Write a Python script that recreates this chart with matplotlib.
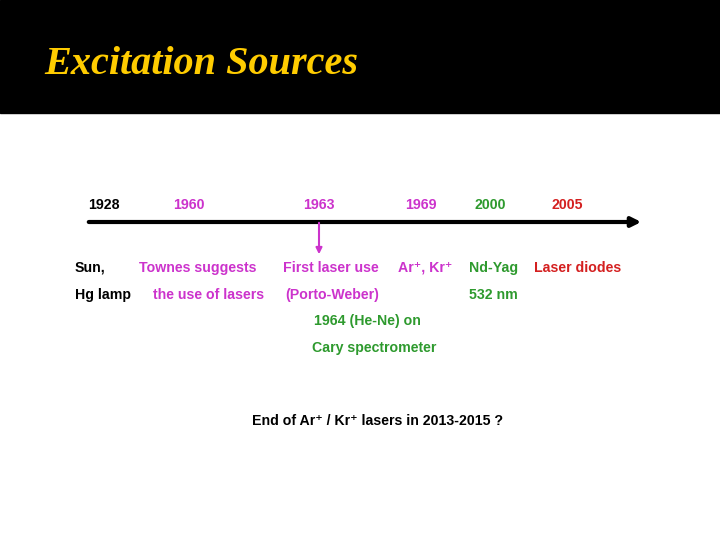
import matplotlib
matplotlib.use("Agg")
import matplotlib.pyplot as plt
from matplotlib.patches import Rectangle

years = ["1928", "1960", "1963", "1969", "2000", "2005"]
year_x = [104, 189, 319, 421, 490, 567]
year_colors = ["black", "#cc33cc", "#cc33cc", "#cc33cc", "#2e9a2e", "#d42020"]

row1 = ["Sun,", "Townes suggests", "First laser use", "Ar\u207a, Kr\u207a", "Nd-Yag", "Laser diodes"]
row1_x = [75, 139, 283, 398, 469, 534]
row2 = ["Hg lamp", "the use of lasers", "(Porto-Weber)", "", "532 nm", ""]
row2_x = [75, 153, 285, 0, 469, 0]
colors = year_colors
extra = ["1964 (He-Ne) on", "Cary spectrometer"]
bottom = "End of Ar\u207a / Kr\u207a lasers in 2013-2015 ?"

fig = plt.figure(figsize=(7.2, 5.4), dpi=100)
ax = fig.add_axes([0, 0, 1, 1])
ax.set_xlim(0, 720); ax.set_ylim(540, 0); ax.axis("off")
ax.add_patch(Rectangle((0, 0), 720, 113, color="black"))
ax.text(44, 64, "Excitation Sources", color="#ffcc00", fontsize=29, style="italic",
        fontweight="bold", family="Liberation Serif", va="center", ha="left")

fkw = dict(family=["Liberation Sans", "DejaVu Sans"], fontweight="bold", fontsize=10.2, va="center")
for y, x, c in zip(years, year_x, year_colors):
    ax.text(x, 205, y, color=c, ha="center", **fkw)
ax.annotate("", xy=(644, 222), xytext=(86, 222),
            arrowprops=dict(arrowstyle="-|>", color="black", lw=3, mutation_scale=14))
ax.annotate("", xy=(319, 257), xytext=(319, 220),
            arrowprops=dict(arrowstyle="-|>", color="#cc33cc", lw=1.5, mutation_scale=9))
for t, x, c in zip(row1, row1_x, colors):
    ax.text(x, 268, t, color=c, ha="left", **fkw)
for t, x, c in zip(row2, row2_x, colors):
    if t:
        ax.text(x, 295, t, color=c, ha="left", **fkw)
ax.text(314, 321, extra[0], color="#2e9a2e", ha="left", **fkw)
ax.text(312, 348, extra[1], color="#2e9a2e", ha="left", **fkw)
ax.text(252, 421, bottom, color="black", ha="left", **fkw)
fig.savefig("out.png", dpi=100)
